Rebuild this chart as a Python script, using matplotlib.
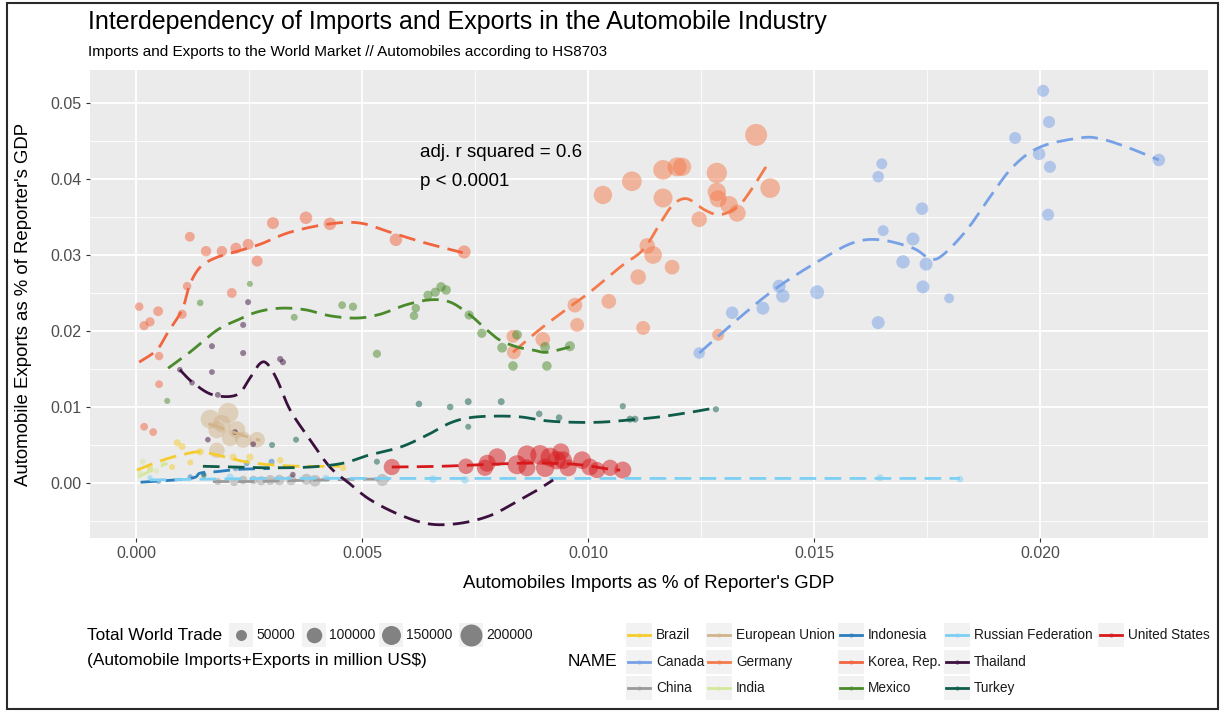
import numpy as np
import matplotlib
matplotlib.use("Agg")
import matplotlib.pyplot as plt
from matplotlib.patches import Rectangle
from matplotlib.lines import Line2D

plt.rcParams['font.family'] = ['Liberation Sans', 'DejaVu Sans']

# ---------------------------------------------------------------- data
countries = ["Brazil", "Canada", "China", "European Union", "Germany", "India",
             "Indonesia", "Korea, Rep.", "Mexico", "Russian Federation",
             "Thailand", "Turkey", "United States"]

colors = {
    "Brazil": "#F5CC2E", "Canada": "#77A1E6", "China": "#9A9A9A",
    "European Union": "#D2B48C", "Germany": "#F47A4C", "India": "#D3E89C",
    "Indonesia": "#2B7DBC", "Korea, Rep.": "#F0653F", "Mexico": "#4A8A2A",
    "Russian Federation": "#7CD0F4", "Thailand": "#3C103E", "Turkey": "#0F5C4A",
    "United States": "#D7191C",
}

# imports / GDP, exports / GDP, total trade (million US$)
brazil_x = [0.00091, 0.00102, 0.00142, 0.00080, 0.00215, 0.00252, 0.00319, 0.00458, 0.00031, 0.00120]
brazil_y = [0.0053, 0.0048, 0.0041, 0.0021, 0.0034, 0.0034, 0.0030, 0.0020, 0.0018, 0.0027]
brazil_trade = [20000, 20000, 22000, 15000, 20000, 22000, 18000, 18000, 15000, 15000]

canada_x = [0.02007, 0.02020, 0.01945, 0.01998, 0.02022, 0.02018, 0.02263, 0.01650, 0.01642,
            0.01739, 0.01653, 0.01719, 0.01697, 0.01748, 0.01741, 0.01799, 0.01642, 0.01507,
            0.01423, 0.01431, 0.01387, 0.01319, 0.01246]
canada_y = [0.0516, 0.0475, 0.0454, 0.0433, 0.0416, 0.0353, 0.0425, 0.0420, 0.0403,
            0.0361, 0.0332, 0.0321, 0.0291, 0.0288, 0.0258, 0.0243, 0.0211, 0.0251,
            0.0259, 0.0246, 0.0230, 0.0224, 0.0171]
canada_trade = [60000, 60000, 60000, 65000, 60000, 60000, 65000, 50000, 55000,
                65000, 50000, 70000, 75000, 70000, 70000, 40000, 70000, 80000,
                70000, 75000, 70000, 65000, 55000]

china_x = [0.00181, 0.00217, 0.00237, 0.00260, 0.00277, 0.00297, 0.00317, 0.00343, 0.00377, 0.00396, 0.00545]
china_y = [0.0002, 0.0001, 0.0004, 0.0004, 0.0003, 0.0004, 0.0004, 0.0004, 0.0005, 0.0003, 0.0004]
china_trade = [20000, 25000, 30000, 30000, 35000, 40000, 45000, 45000, 50000, 55000, 60000]

eu_x = [0.00164, 0.00204, 0.00208, 0.00179, 0.00237, 0.00268, 0.00223, 0.00179, 0.00190]
eu_y = [0.0084, 0.0092, 0.0059, 0.0043, 0.0057, 0.0057, 0.0070, 0.0070, 0.0078]
eu_trade = [150000, 170000, 110000, 100000, 110000, 100000, 120000, 120000, 130000]

germany_x = [0.01372, 0.01403, 0.01285, 0.01285, 0.01288, 0.01312, 0.01330, 0.01246, 0.01197,
             0.01208, 0.01166, 0.01166, 0.01097, 0.01033, 0.01131, 0.01144, 0.01111, 0.01186,
             0.01046, 0.01122, 0.00976, 0.00971, 0.00900, 0.00834, 0.00836, 0.01288]
germany_y = [0.0458, 0.0388, 0.0408, 0.0383, 0.0374, 0.0366, 0.0355, 0.0347, 0.0416,
             0.0416, 0.0412, 0.0375, 0.0397, 0.0379, 0.0312, 0.0300, 0.0271, 0.0284,
             0.0239, 0.0204, 0.0208, 0.0234, 0.0189, 0.0193, 0.0172, 0.0195]
germany_trade = [200000, 160000, 170000, 140000, 120000, 130000, 120000, 100000, 150000,
                 140000, 160000, 150000, 160000, 140000, 100000, 130000, 100000, 90000,
                 90000, 80000, 80000, 90000, 90000, 70000, 80000, 60000]

india_x = [0.00015, 0.00031, 0.00009, 0.00045, 0.00060]
india_y = [0.0028, 0.0021, 0.0013, 0.0016, 0.0026]
india_trade = [15000, 15000, 12000, 12000, 12000]

indonesia_x = [0.00050, 0.00120, 0.00245, 0.00300, 0.00220, 0.00150]
indonesia_y = [0.0002, 0.0008, 0.0026, 0.0028, 0.0019, 0.0012]
indonesia_trade = [10000, 12000, 15000, 15000, 12000, 10000]

korea_x = [0.00007, 0.00018, 0.00031, 0.00049, 0.00119, 0.00155, 0.00190, 0.00221, 0.00248,
           0.00268, 0.00303, 0.00376, 0.00429, 0.00575, 0.00726, 0.00113, 0.00212, 0.00102,
           0.00051, 0.00051, 0.00018, 0.00038]
korea_y = [0.0232, 0.0207, 0.0212, 0.0226, 0.0324, 0.0305, 0.0305, 0.0309, 0.0314,
           0.0292, 0.0342, 0.0349, 0.0341, 0.0320, 0.0304, 0.0259, 0.0250, 0.0222,
           0.0167, 0.0130, 0.0074, 0.0067]
korea_trade = [30000, 35000, 35000, 40000, 40000, 45000, 45000, 50000, 50000,
               50000, 60000, 65000, 65000, 65000, 70000, 30000, 40000, 35000,
               30000, 25000, 25000, 25000]

mexico_x = [0.00252, 0.00142, 0.00350, 0.00456, 0.00480, 0.00533, 0.00069, 0.00615, 0.00619,
            0.00646, 0.00662, 0.00675, 0.00686, 0.00737, 0.00765, 0.00810, 0.00834, 0.00843,
            0.00905, 0.00909, 0.00960]
mexico_y = [0.0262, 0.0237, 0.0218, 0.0234, 0.0232, 0.0170, 0.0108, 0.0220, 0.0230,
            0.0247, 0.0251, 0.0258, 0.0254, 0.0221, 0.0197, 0.0178, 0.0154, 0.0195,
            0.0179, 0.0154, 0.0180]
mexico_trade = [15000, 18000, 20000, 25000, 28000, 28000, 15000, 30000, 30000,
                35000, 35000, 38000, 38000, 35000, 35000, 40000, 38000, 40000,
                40000, 38000, 42000]

russia_x = [0.00031, 0.00208, 0.00657, 0.00728, 0.01646, 0.01823, 0.00420]
russia_y = [0.0007, 0.0008, 0.0005, 0.0004, 0.0007, 0.0005, 0.0006]
russia_trade = [12000, 20000, 25000, 25000, 20000, 18000, 22000]

thailand_x = [0.00248, 0.00237, 0.00168, 0.00237, 0.00168, 0.00319, 0.00325, 0.00097,
              0.00181, 0.00219, 0.00159, 0.00259, 0.00347, 0.00124]
thailand_y = [0.0238, 0.0208, 0.0180, 0.0171, 0.0146, 0.0163, 0.0159, 0.0149,
              0.0116, 0.0067, 0.0057, 0.0051, 0.0011, 0.0132]
thailand_trade = [15000, 15000, 15000, 15000, 14000, 16000, 16000, 13000,
                  14000, 14000, 13000, 14000, 13000, 13000]

turkey_x = [0.00626, 0.00695, 0.00735, 0.00808, 0.00735, 0.00892, 0.00936, 0.01077,
            0.01093, 0.01104, 0.00533, 0.00301, 0.00354, 0.01283, 0.00150]
turkey_y = [0.0104, 0.0100, 0.0107, 0.0107, 0.0074, 0.0091, 0.0086, 0.0101,
            0.0084, 0.0084, 0.0028, 0.0050, 0.0057, 0.0097, 0.0010]
turkey_trade = [18000, 18000, 20000, 20000, 15000, 18000, 18000, 16000,
                20000, 20000, 15000, 15000, 15000, 16000, 12000]

us_x = [0.00566, 0.00730, 0.00777, 0.00799, 0.00772, 0.00843, 0.00865, 0.00865, 0.00894,
        0.00905, 0.00916, 0.00931, 0.00945, 0.00956, 0.00987, 0.01004, 0.01020, 0.01049,
        0.01077, 0.00940]
us_y = [0.0021, 0.0022, 0.0026, 0.0034, 0.0020, 0.0024, 0.0037, 0.0020, 0.0037,
        0.0020, 0.0034, 0.0030, 0.0030, 0.0020, 0.0030, 0.0021, 0.0017, 0.0020,
        0.0017, 0.0041]
us_trade = [110000, 100000, 120000, 130000, 110000, 150000, 150000, 120000, 160000,
            140000, 150000, 140000, 130000, 120000, 130000, 120000, 110000, 110000,
            120000, 120000]

# loess trend for each country (x, fitted exports / GDP)
brazil_fit_x = [0.00002, 0.00031, 0.00069, 0.00108, 0.00142, 0.00186, 0.00241, 0.00296, 0.00363, 0.00451]
brazil_fit_y = [0.0017, 0.0024, 0.0032, 0.0038, 0.0041, 0.0036, 0.0028, 0.0024, 0.0022, 0.0022]

canada_fit_x = [0.01246, 0.01336, 0.01418, 0.01513, 0.01586, 0.01646, 0.01719, 0.01757, 0.01785,
                0.01838, 0.01889, 0.01940, 0.02000, 0.02088, 0.02133, 0.02192, 0.02263]
canada_fit_y = [0.0171, 0.0218, 0.0257, 0.0293, 0.0316, 0.0320, 0.0309, 0.0295, 0.0300,
                0.0333, 0.0376, 0.0416, 0.0442, 0.0454, 0.0453, 0.0442, 0.0425]

china_fit_x = [0.00170, 0.00250, 0.00330, 0.00410, 0.00500, 0.00560]
china_fit_y = [0.0002, 0.0002, 0.0003, 0.0004, 0.0005, 0.0005]

eu_fit_x = [0.00160, 0.00200, 0.00240, 0.00275]
eu_fit_y = [0.0078, 0.0070, 0.0062, 0.0056]

germany_fit_x = [0.00834, 0.00889, 0.00960, 0.01004, 0.01071, 0.01122, 0.01159, 0.01188,
                 0.01219, 0.01259, 0.01292, 0.01330, 0.01358, 0.01400]
germany_fit_y = [0.0172, 0.0200, 0.0232, 0.0251, 0.0284, 0.0307, 0.0341, 0.0366,
                 0.0374, 0.0359, 0.0353, 0.0363, 0.0383, 0.0422]

india_fit_x = [0.00005, 0.00040, 0.00070]
india_fit_y = [0.0008, 0.0018, 0.0026]

indonesia_fit_x = [0.00010, 0.00120, 0.00142, 0.00179, 0.00230, 0.00296]
indonesia_fit_y = [0.0001, 0.0006, 0.0013, 0.0015, 0.0018, 0.0019]

korea_fit_x = [0.00007, 0.00046, 0.00069, 0.00102, 0.00119, 0.00142, 0.00175, 0.00219,
               0.00274, 0.00341, 0.00429, 0.00496, 0.00562, 0.00639, 0.00723]
korea_fit_y = [0.0159, 0.0175, 0.0197, 0.0228, 0.0261, 0.0284, 0.0296, 0.0304,
               0.0314, 0.0330, 0.0341, 0.0342, 0.0330, 0.0316, 0.0303]

mexico_fit_x = [0.00071, 0.00119, 0.00179, 0.00223, 0.00268, 0.00319, 0.00374, 0.00429,
                0.00489, 0.00540, 0.00595, 0.00650, 0.00695, 0.00739, 0.00777, 0.00805,
                0.00843, 0.00878, 0.00909, 0.00960]
mexico_fit_y = [0.0151, 0.0172, 0.0201, 0.0214, 0.0225, 0.0230, 0.0228, 0.0220,
                0.0217, 0.0222, 0.0234, 0.0241, 0.0238, 0.0221, 0.0201, 0.0188,
                0.0179, 0.0175, 0.0172, 0.0179]

russia_fit_x = [0.00030, 0.00300, 0.00600, 0.00900, 0.01200, 0.01500, 0.01823]
russia_fit_y = [0.0004, 0.0006, 0.0006, 0.0006, 0.0006, 0.0006, 0.0006]

thailand_fit_x = [0.00097, 0.00126, 0.00170, 0.00223, 0.00252, 0.00274, 0.00290, 0.00312,
                  0.00341, 0.00385, 0.00429, 0.00473, 0.00518, 0.00584, 0.00650, 0.00717,
                  0.00783, 0.00838, 0.00883, 0.00923]
thailand_fit_y = [0.0149, 0.0132, 0.0116, 0.0116, 0.0138, 0.0157, 0.0157, 0.0136,
                  0.0096, 0.0057, 0.0021, -0.0001, -0.0022, -0.0042, -0.0054, -0.0053,
                  -0.0043, -0.0026, -0.0011, 0.0004]

turkey_fit_x = [0.00148, 0.00223, 0.00296, 0.00385, 0.00458, 0.00511, 0.00584, 0.00644,
                0.00695, 0.00739, 0.00794, 0.00850, 0.00905, 0.00960, 0.01027, 0.01093,
                0.01159, 0.01226, 0.01283]
turkey_fit_y = [0.0022, 0.0021, 0.0020, 0.0021, 0.0026, 0.0036, 0.0047, 0.0063,
                0.0079, 0.0086, 0.0088, 0.0087, 0.0082, 0.0080, 0.0080, 0.0083,
                0.0087, 0.0093, 0.0099]

us_fit_x = [0.00566, 0.00673, 0.00761, 0.00850, 0.00916, 0.00982, 0.01049, 0.01071]
us_fit_y = [0.0021, 0.0022, 0.0024, 0.0026, 0.0026, 0.0024, 0.0018, 0.0017]

points = {
    "Brazil": (brazil_x, brazil_y, brazil_trade),
    "Canada": (canada_x, canada_y, canada_trade),
    "China": (china_x, china_y, china_trade),
    "European Union": (eu_x, eu_y, eu_trade),
    "Germany": (germany_x, germany_y, germany_trade),
    "India": (india_x, india_y, india_trade),
    "Indonesia": (indonesia_x, indonesia_y, indonesia_trade),
    "Korea, Rep.": (korea_x, korea_y, korea_trade),
    "Mexico": (mexico_x, mexico_y, mexico_trade),
    "Russian Federation": (russia_x, russia_y, russia_trade),
    "Thailand": (thailand_x, thailand_y, thailand_trade),
    "Turkey": (turkey_x, turkey_y, turkey_trade),
    "United States": (us_x, us_y, us_trade),
}
fits = {
    "Brazil": (brazil_fit_x, brazil_fit_y),
    "Canada": (canada_fit_x, canada_fit_y),
    "China": (china_fit_x, china_fit_y),
    "European Union": (eu_fit_x, eu_fit_y),
    "Germany": (germany_fit_x, germany_fit_y),
    "India": (india_fit_x, india_fit_y),
    "Indonesia": (indonesia_fit_x, indonesia_fit_y),
    "Korea, Rep.": (korea_fit_x, korea_fit_y),
    "Mexico": (mexico_fit_x, mexico_fit_y),
    "Russian Federation": (russia_fit_x, russia_fit_y),
    "Thailand": (thailand_fit_x, thailand_fit_y),
    "Turkey": (turkey_fit_x, turkey_fit_y),
    "United States": (us_fit_x, us_fit_y),
}

size_breaks = [50000, 100000, 150000, 200000]
size_labels = ["50000", "100000", "150000", "200000"]
x_ticks = [0.0, 0.005, 0.010, 0.015, 0.020]
y_ticks = [0.00, 0.01, 0.02, 0.03, 0.04, 0.05]


def marker_area(trade):
    return np.asarray(trade, dtype=float) / 800.0


def catmull_rom(xs, ys, n=16):
    pts = np.column_stack([xs, ys]).astype(float)
    if len(pts) < 3:
        return pts[:, 0], pts[:, 1]
    p = np.vstack([pts[0], pts, pts[-1]])
    t = np.linspace(0, 1, n, endpoint=False)[:, None]
    segs = []
    for i in range(1, len(p) - 2):
        p0, p1, p2, p3 = p[i - 1], p[i], p[i + 1], p[i + 2]
        segs.append(0.5 * (2 * p1 + (-p0 + p2) * t
                           + (2 * p0 - 5 * p1 + 4 * p2 - p3) * t ** 2
                           + (-p0 + 3 * p1 - 3 * p2 + p3) * t ** 3))
    segs.append(pts[-1][None])
    out = np.vstack(segs)
    return out[:, 0], out[:, 1]


# ---------------------------------------------------------------- figure
W, H = 1220, 711
fig = plt.figure(figsize=(W / 100, H / 100), dpi=100)
fig.patch.set_facecolor("white")

ax = fig.add_axes([90 / W, 1 - 538 / H, (1208 - 90) / W, (538 - 70) / H])
ax.set_facecolor("#EBEBEB")
for s in ax.spines.values():
    s.set_visible(False)

ax.set_xticks(x_ticks)
ax.set_xticklabels([f"{v:.3f}" for v in x_ticks])
ax.set_yticks(y_ticks)
ax.set_yticklabels([f"{v:.2f}" for v in y_ticks])
ax.set_xticks([0.0025 + 0.005 * k for k in range(5)], minor=True)
ax.set_yticks([-0.005 + 0.01 * k for k in range(6)], minor=True)
ax.set_xlim(-0.001018, 0.023717)
ax.set_ylim(-0.007237, 0.05434)
ax.grid(which="major", color="white", linewidth=1.3)
ax.grid(which="minor", color="white", linewidth=0.6)
ax.set_axisbelow(True)
ax.tick_params(which="major", length=3, width=0.8, color="#333333",
               labelsize=11.5, labelcolor="#4D4D4D", pad=3)
ax.tick_params(which="minor", length=0)

ax.set_xlabel("Automobiles Imports as % of Reporter's GDP", fontsize=13.4, labelpad=10)
ax.set_ylabel("Automobile Exports as % of Reporter's GDP", fontsize=13.4, labelpad=13)

for c in countries:
    x, y, tr = points[c]
    ax.scatter(x, y, s=marker_area(tr), color=colors[c], alpha=0.5,
               linewidths=0, zorder=2)

for c in countries:
    fx, fy = fits[c]
    sx, sy = catmull_rom(fx, fy)
    ax.plot(sx, sy, color=colors[c], linewidth=2.0, linestyle=(0, (6, 3)),
            dash_capstyle="butt", zorder=3)

ax.text(0.00628, 0.04355, "adj. r squared = 0.6", fontsize=13.5, va="center", ha="left")
ax.text(0.00628, 0.0397, "p < 0.0001", fontsize=13.5, va="center", ha="left")

fig.text(88 / W, 1 - 22 / H, "Interdependency of Imports and Exports in the Automobile Industry",
         fontsize=18, va="center", ha="left")
fig.text(88 / W, 1 - 52 / H,
         "Imports and Exports to the World Market // Automobiles according to HS8703",
         fontsize=11, va="center", ha="left")

# ---------------------------------------------------------------- legends
lg = fig.add_axes([0, 0, 1, 1])
lg.set_xlim(0, W)
lg.set_ylim(H, 0)
lg.axis("off")

lg.text(87, 635, "Total World Trade", fontsize=12.4, va="center", ha="left")
lg.text(87, 660, "(Automobile Imports+Exports in million US$)", fontsize=12.4,
        va="center", ha="left")
key_x = [241, 314, 391, 471]
for kx, val, lab in zip(key_x, size_breaks, size_labels):
    lg.add_patch(Rectangle((kx - 12, 623), 24, 24, facecolor="#F2F2F2", edgecolor="none"))
    lg.scatter([kx], [635], s=marker_area([val]), color="#6E6E6E", alpha=0.85, linewidths=0)
    lg.text(kx + 15, 635, lab, fontsize=10, va="center", ha="left", color="#1A1A1A")

lg.text(568, 662, "NAME", fontsize=12.4, va="center", ha="left")
col_x = [628, 708, 840, 946, 1100]
row_y = [635, 662, 688]
for i, c in enumerate(countries):
    col, row = divmod(i, 3)
    kx, ky = col_x[col], row_y[row]
    lg.add_patch(Rectangle((kx - 2, ky - 12), 26, 24, facecolor="#F2F2F2", edgecolor="none"))
    lg.add_line(Line2D([kx, kx + 22], [ky, ky], color=colors[c], linewidth=2.0))
    lg.scatter([kx + 11], [ky], s=10, color=colors[c], alpha=0.5, linewidths=0)
    lg.text(kx + 28, ky, c, fontsize=9.8, va="center", ha="left", color="#1A1A1A")

lg.add_patch(Rectangle((6.5, 2.5), 1211, 706, facecolor="none", edgecolor="#2A2A2A",
                       linewidth=1.5))

fig.savefig("out.png", dpi=100)
